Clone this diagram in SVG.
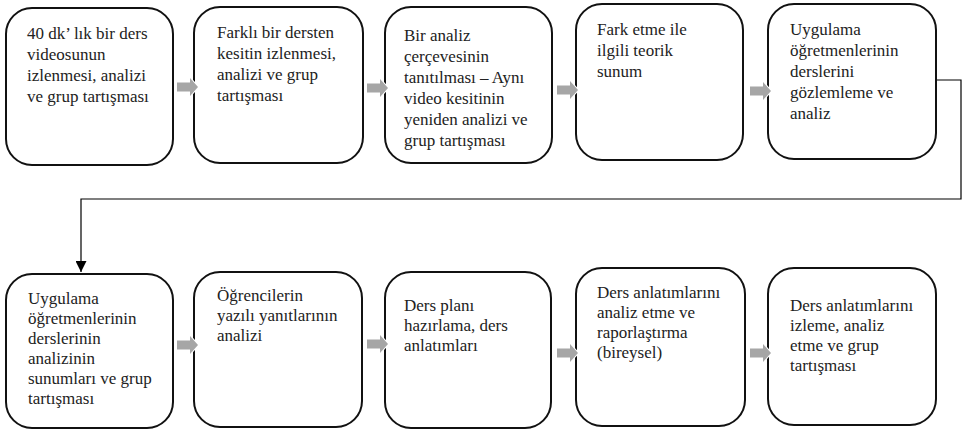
<svg xmlns="http://www.w3.org/2000/svg" width="964" height="430" viewBox="0 0 964 430">
<style>
.box{fill:#fff;stroke:#111;stroke-width:2}
.t{font-family:'Liberation Serif','Times New Roman','DejaVu Serif',serif;font-size:17px;fill:#222}
.ga{fill:#a6a6a6;stroke:#fff;stroke-width:2;paint-order:stroke}
.conn{fill:none;stroke:#000;stroke-width:1.2}
</style>
<defs>
<marker id="ah" viewBox="0 0 10 10" refX="10" refY="5" markerWidth="11" markerHeight="11" markerUnits="userSpaceOnUse" orient="auto">
<path d="M0,0 L10,5 L0,10 Z" fill="#000"/>
</marker>
<path id="garrow" d="M0,-4.5 H13 V-9 L21,0 L13,9 V4.5 H0 Z"/>
</defs>
<g id="connectors">
<path class="conn" d="M936,80 H961 V199 H81 V272" marker-end="url(#ah)"/>
</g>
<g id="n1"><rect class="box" x="6" y="8" width="167" height="157" rx="26"/>
<text class="t" x="27" y="39">40 dk’ lık bir ders<tspan x="27" dy="21">videosunun</tspan><tspan x="27" dy="21">izlenmesi, analizi</tspan><tspan x="27" dy="21">ve grup tartışması</tspan></text></g>
<g id="n2"><rect class="box" x="194" y="7" width="169" height="156" rx="26"/>
<text class="t" x="217" y="38">Farklı bir dersten<tspan x="217" dy="21">kesitin izlenmesi,</tspan><tspan x="217" dy="21">analizi ve grup</tspan><tspan x="217" dy="21">tartışması</tspan></text></g>
<g id="n3"><rect class="box" x="385" y="7" width="167" height="156" rx="26"/>
<text class="t" x="404" y="41">Bir analiz<tspan x="404" dy="21">çerçevesinin</tspan><tspan x="404" dy="21">tanıtılması – Aynı</tspan><tspan x="404" dy="21">video kesitinin</tspan><tspan x="404" dy="21">yeniden analizi ve</tspan><tspan x="404" dy="21">grup tartışması</tspan></text></g>
<g id="n4"><rect class="box" x="576" y="4" width="167" height="156" rx="26"/>
<text class="t" x="597" y="35">Fark etme ile<tspan x="597" dy="21">ilgili teorik</tspan><tspan x="597" dy="21">sunum</tspan></text></g>
<g id="n5"><rect class="box" x="768" y="4" width="168" height="155" rx="26"/>
<text class="t" x="790" y="35">Uygulama<tspan x="790" dy="21">öğretmenlerinin</tspan><tspan x="790" dy="21">derslerini</tspan><tspan x="790" dy="21">gözlemleme ve</tspan><tspan x="790" dy="21">analiz</tspan></text></g>
<g id="n6"><rect class="box" x="6" y="274" width="167" height="154" rx="26"/>
<text class="t" x="28" y="304">Uygulama<tspan x="28" dy="20">öğretmenlerinin</tspan><tspan x="28" dy="20">derslerinin</tspan><tspan x="28" dy="20">analizinin</tspan><tspan x="28" dy="20">sunumları ve grup</tspan><tspan x="28" dy="20">tartışması</tspan></text></g>
<g id="n7"><rect class="box" x="194" y="272" width="168" height="155" rx="26"/>
<text class="t" x="217" y="301">Öğrencilerin<tspan x="217" dy="20">yazılı yanıtlarının</tspan><tspan x="217" dy="20">analizi</tspan></text></g>
<g id="n8"><rect class="box" x="385" y="272" width="166" height="156" rx="26"/>
<text class="t" x="404" y="311">Ders planı<tspan x="404" dy="20">hazırlama, ders</tspan><tspan x="404" dy="20">anlatımları</tspan></text></g>
<g id="n9"><rect class="box" x="576" y="268" width="169" height="158" rx="26"/>
<text class="t" x="597" y="298">Ders anlatımlarını<tspan x="597" dy="20">analiz etme ve</tspan><tspan x="597" dy="20">raporlaştırma</tspan><tspan x="597" dy="20">(bireysel)</tspan></text></g>
<g id="n10"><rect class="box" x="768" y="268" width="168" height="157" rx="26"/>
<text class="t" x="790" y="311">Ders anlatımlarını<tspan x="790" dy="20">izleme, analiz</tspan><tspan x="790" dy="20">etme ve grup</tspan><tspan x="790" dy="20">tartışması</tspan></text></g>
<g id="flow-arrows">
<use href="#garrow" class="ga" x="177" y="87"/>
<use href="#garrow" class="ga" x="367" y="88"/>
<use href="#garrow" class="ga" x="557" y="90"/>
<use href="#garrow" class="ga" x="750" y="91"/>
<use href="#garrow" class="ga" x="177" y="345"/>
<use href="#garrow" class="ga" x="367" y="344"/>
<use href="#garrow" class="ga" x="557" y="353"/>
<use href="#garrow" class="ga" x="750" y="353"/>
</g>
</svg>
